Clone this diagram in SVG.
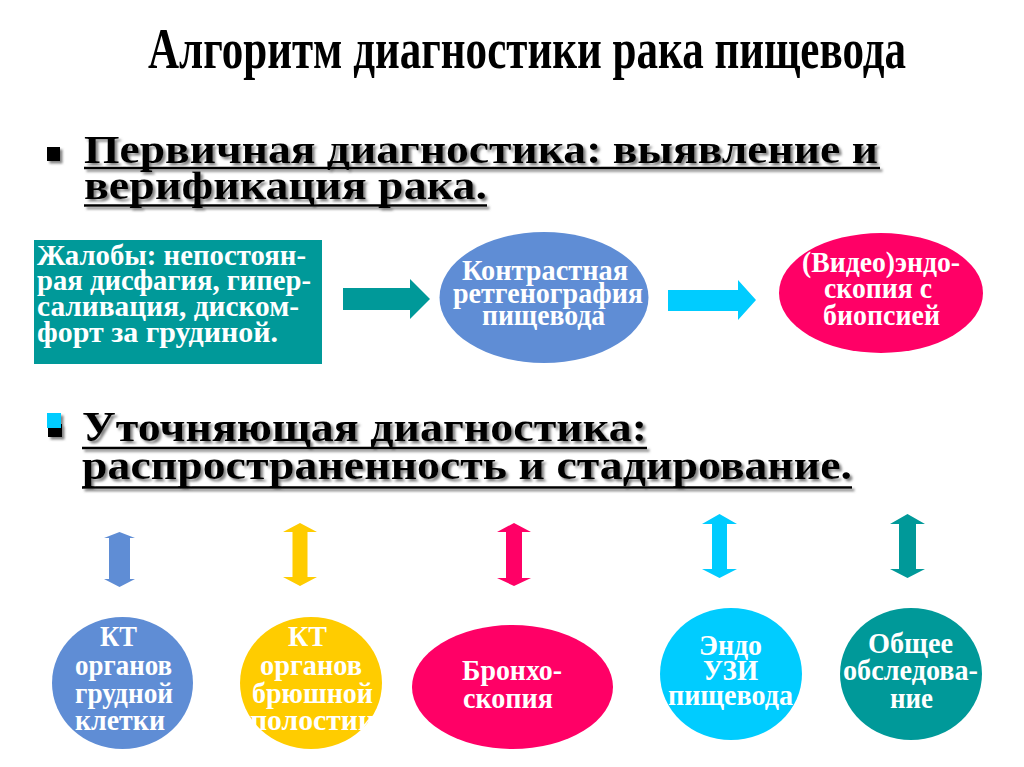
<svg xmlns="http://www.w3.org/2000/svg" width="1024" height="767" viewBox="0 0 1024 767">
<style>
  .t{font-family:"Liberation Serif","Times New Roman",serif;font-weight:bold}
  .title{font-size:56px;fill:#000}
  .head{font-size:40px;fill:#000}
  .head2{font-size:43px;fill:#000}
  .w{fill:#fff;font-size:30px}
  .m{fill:#fff;font-size:29px}
  .bx{fill:#fff;font-size:29px}
  .c{text-anchor:middle}
  .ul{stroke:#000;stroke-width:2.5}
</style>
<defs>
  <filter id="sh" x="-5%" y="-20%" width="110%" height="150%">
    <feDropShadow dx="2.5" dy="2.5" stdDeviation="1" flood-color="#666" flood-opacity="0.8"/>
  </filter>
</defs>
<rect width="1024" height="767" fill="#fff"/>

<text class="t title" x="148" y="68" textLength="758" lengthAdjust="spacingAndGlyphs">Алгоритм диагностики рака пищевода</text>

<g id="heading1" filter="url(#sh)">
  <rect x="47" y="147" width="13" height="14" fill="#000"/>
  <text class="t head" x="84" y="163" textLength="794" lengthAdjust="spacingAndGlyphs">Первичная диагностика: выявление и</text>
  <line class="ul" x1="84" y1="168" x2="880" y2="168"/>
  <text class="t head" x="84" y="199" textLength="403" lengthAdjust="spacingAndGlyphs">верификация рака.</text>
  <line class="ul" x1="84" y1="205.5" x2="487" y2="205.5"/>
</g>

<g id="heading2" filter="url(#sh)">
  <rect x="48" y="424" width="14" height="13" fill="#000"/>
  <rect x="47" y="413" width="14" height="15" fill="#00ccff"/>
  <text class="t head2" x="82" y="441" textLength="565" lengthAdjust="spacingAndGlyphs">Уточняющая диагностика:</text>
  <line class="ul" x1="82" y1="448" x2="647" y2="448"/>
  <text class="t head2" x="82" y="479" textLength="770" lengthAdjust="spacingAndGlyphs">распространенность и стадирование.</text>
  <line class="ul" x1="82" y1="487.5" x2="852" y2="487.5"/>
</g>

<g id="complaints">
  <rect x="34" y="240" width="288" height="124" fill="#009999"/>
  <text class="t bx" x="37" y="265" textLength="269" lengthAdjust="spacingAndGlyphs">Жалобы: непостоян-</text>
  <text class="t bx" x="37" y="290" textLength="274" lengthAdjust="spacingAndGlyphs">рая дисфагия, гипер-</text>
  <text class="t bx" x="37" y="316" textLength="262" lengthAdjust="spacingAndGlyphs">саливация, диском-</text>
  <text class="t bx" x="37" y="342" textLength="241" lengthAdjust="spacingAndGlyphs">форт за грудиной.</text>
</g>

<g id="contrast">
  <ellipse cx="544" cy="297.5" rx="104.5" ry="65.5" fill="#5f8dd5"/>
  <text class="t m c" x="545" y="280" textLength="166" lengthAdjust="spacingAndGlyphs">Контрастная</text>
  <text class="t m c" x="548" y="303" textLength="190" lengthAdjust="spacingAndGlyphs">ретгенография</text>
  <text class="t m c" x="543.5" y="325" textLength="123" lengthAdjust="spacingAndGlyphs">пищевода</text>
</g>

<g id="endoscopy">
  <ellipse cx="881" cy="293" rx="102" ry="60" fill="#ff0066"/>
  <text class="t m c" x="881" y="272" textLength="158" lengthAdjust="spacingAndGlyphs">(Видео)эндо-</text>
  <text class="t m c" x="878" y="298" textLength="108" lengthAdjust="spacingAndGlyphs">скопия с</text>
  <text class="t m c" x="881.5" y="325" textLength="117" lengthAdjust="spacingAndGlyphs">биопсией</text>
</g>

<g id="ct-chest">
  <ellipse cx="122.5" cy="683" rx="70.5" ry="66" fill="#5f8dd5"/>
  <text class="t w c" x="118.5" y="646" textLength="37" lengthAdjust="spacingAndGlyphs">КТ</text>
  <text class="t w c" x="123.5" y="675" textLength="97" lengthAdjust="spacingAndGlyphs">органов</text>
  <text class="t w c" x="124" y="703" textLength="98" lengthAdjust="spacingAndGlyphs">грудной</text>
  <text class="t w c" x="120" y="730" textLength="90" lengthAdjust="spacingAndGlyphs">клетки</text>
</g>

<g id="ct-abdomen">
  <ellipse cx="311" cy="683" rx="71" ry="66" fill="#ffcc00"/>
  <text class="t w c" x="307.5" y="646" textLength="39" lengthAdjust="spacingAndGlyphs">КТ</text>
  <text class="t w c" x="311" y="675" textLength="102" lengthAdjust="spacingAndGlyphs">органов</text>
  <text class="t w c" x="312.5" y="703" textLength="121" lengthAdjust="spacingAndGlyphs">брюшной</text>
  <text class="t w c" x="312.5" y="730" textLength="125" lengthAdjust="spacingAndGlyphs">полостии</text>
</g>

<g id="bronchoscopy">
  <ellipse cx="512.5" cy="687" rx="100.5" ry="62" fill="#ff0066"/>
  <text class="t w c" x="512" y="680" textLength="100" lengthAdjust="spacingAndGlyphs">Бронхо-</text>
  <text class="t w c" x="508" y="708" textLength="90" lengthAdjust="spacingAndGlyphs">скопия</text>
</g>

<g id="endo-us">
  <ellipse cx="731" cy="674" rx="71" ry="66" fill="#00ccff"/>
  <text class="t w c" x="730.5" y="655" textLength="63" lengthAdjust="spacingAndGlyphs">Эндо</text>
  <text class="t w c" x="730.5" y="680" textLength="55" lengthAdjust="spacingAndGlyphs">УЗИ</text>
  <text class="t w c" x="730.5" y="705" textLength="125" lengthAdjust="spacingAndGlyphs">пищевода</text>
</g>

<g id="general-exam">
  <ellipse cx="911" cy="674" rx="71" ry="66" fill="#009999"/>
  <text class="t w c" x="910.5" y="653" textLength="85" lengthAdjust="spacingAndGlyphs">Общее</text>
  <text class="t w c" x="910.5" y="680" textLength="135" lengthAdjust="spacingAndGlyphs">обследова-</text>
  <text class="t w c" x="911.5" y="708" textLength="43" lengthAdjust="spacingAndGlyphs">ние</text>
</g>

<g id="connectors">
  <polygon fill="#009999" points="343,288 410,288 410,279 430,299 410,319 410,310 343,310"/>
  <polygon fill="#00ccff" points="668,290 738,290 738,280 756,300 738,320 738,311 668,311"/>
  <polygon fill="#5f8dd5" points="119.5,532 135,538 130,538 130,579 135,579 119.5,587 104,579 109,579 109,538 104,538"/>
  <polygon fill="#ffcc00" points="300,523 317,532 307.5,532 307.5,577 317,577 300,586 283,577 292.5,577 292.5,532 283,532"/>
  <polygon fill="#ff0066" points="514,523 531,532 522,532 522,578 531,578 514,586 497,578 506,578 506,532 497,532"/>
  <polygon fill="#00ccff" points="719.5,514 737,524 727,524 727,569 737,569 719.5,578 702,569 712,569 712,524 702,524"/>
  <polygon fill="#009999" points="907.5,514 925,524 916,524 916,569 925,569 907.5,578 890,569 899,569 899,524 890,524"/>
</g>
</svg>
